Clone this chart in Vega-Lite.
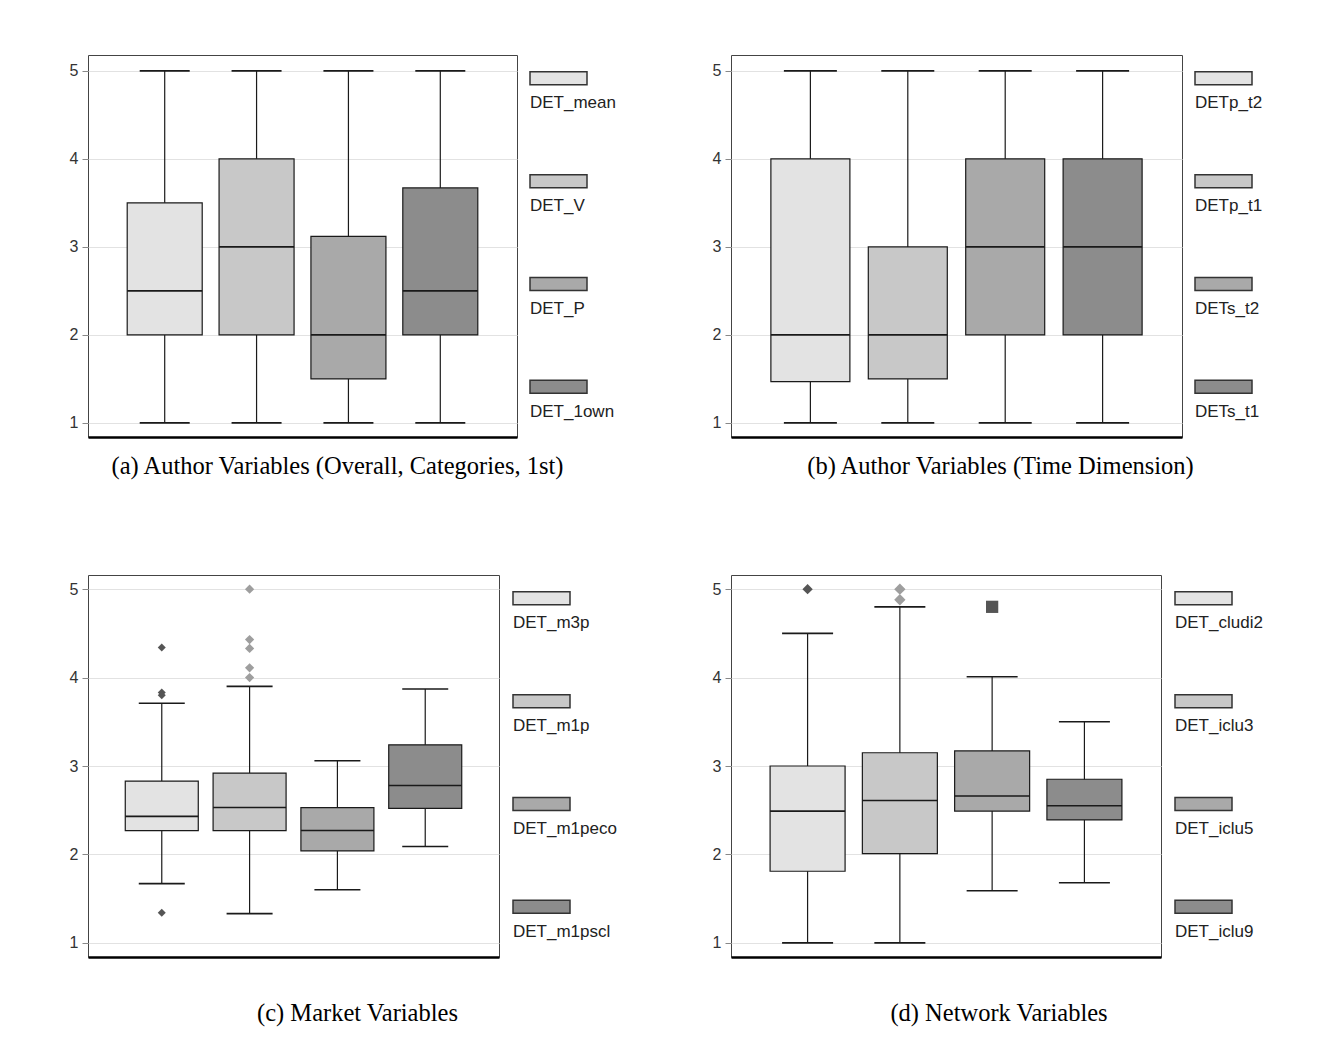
{
  "$schema": "https://vega.github.io/schema/vega-lite/v6.json",
  "background": "white",
  "padding": {"left": 68, "top": 54, "right": 5, "bottom": 10},
  "datasets": {
    "a": [
      {"s": "DET_mean", "lo": 1, "q1": 2, "med": 2.5, "q3": 3.5, "hi": 5},
      {"s": "DET_V", "lo": 1, "q1": 2, "med": 3, "q3": 4, "hi": 5},
      {"s": "DET_P", "lo": 1, "q1": 1.5, "med": 2, "q3": 3.12, "hi": 5},
      {"s": "DET_1own", "lo": 1, "q1": 2, "med": 2.5, "q3": 3.67, "hi": 5}
    ],
    "b": [
      {"s": "DETp_t2", "lo": 1, "q1": 1.47, "med": 2, "q3": 4, "hi": 5},
      {"s": "DETp_t1", "lo": 1, "q1": 1.5, "med": 2, "q3": 3, "hi": 5},
      {"s": "DETs_t2", "lo": 1, "q1": 2, "med": 3, "q3": 4, "hi": 5},
      {"s": "DETs_t1", "lo": 1, "q1": 2, "med": 3, "q3": 4, "hi": 5}
    ],
    "c": [
      {"s": "DET_m3p", "lo": 1.67, "q1": 2.27, "med": 2.43, "q3": 2.83, "hi": 3.71},
      {"s": "DET_m1p", "lo": 1.33, "q1": 2.27, "med": 2.53, "q3": 2.92, "hi": 3.9},
      {"s": "DET_m1peco", "lo": 1.6, "q1": 2.04, "med": 2.27, "q3": 2.53, "hi": 3.06},
      {"s": "DET_m1pscl", "lo": 2.09, "q1": 2.52, "med": 2.78, "q3": 3.24, "hi": 3.87}
    ],
    "c_out": [
      {"s": "DET_m3p", "v": 4.34},
      {"s": "DET_m3p", "v": 3.83},
      {"s": "DET_m3p", "v": 3.8},
      {"s": "DET_m3p", "v": 1.34},
      {"s": "DET_m1p", "v": 5.0},
      {"s": "DET_m1p", "v": 4.43},
      {"s": "DET_m1p", "v": 4.33},
      {"s": "DET_m1p", "v": 4.11},
      {"s": "DET_m1p", "v": 4.0}
    ],
    "d": [
      {"s": "DET_cludi2", "lo": 1, "q1": 1.81, "med": 2.49, "q3": 3.0, "hi": 4.5},
      {"s": "DET_iclu3", "lo": 1, "q1": 2.01, "med": 2.61, "q3": 3.15, "hi": 4.8},
      {"s": "DET_iclu5", "lo": 1.59, "q1": 2.49, "med": 2.66, "q3": 3.17, "hi": 4.01},
      {"s": "DET_iclu9", "lo": 1.68, "q1": 2.39, "med": 2.55, "q3": 2.85, "hi": 3.5}
    ],
    "d_out": [
      {"s": "DET_cludi2", "v": 5.0},
      {"s": "DET_iclu3", "v": 5.0},
      {"s": "DET_iclu3", "v": 4.88},
      {"s": "DET_iclu5", "v": 4.8}
    ]
  },
  "vconcat": [
    {
      "hconcat": [
        {
          "width": 429, "height": 382,
          "view": {"stroke": "#444", "strokeWidth": 1},
          "title": {"text": "(a) Author Variables (Overall, Categories, 1st)", "orient": "bottom", "anchor": "middle", "frame": "group", "dx": 35, "offset": 18, "font": "Liberation Serif", "fontSize": 24.5, "fontWeight": "normal", "color": "#000"},
          "data": {"name": "a"},
          "encoding": {
            "x": {"field": "s", "type": "nominal", "sort": null, "scale": {"type": "point", "padding": 0.835, "domain": ["DET_mean", "DET_V", "DET_P", "DET_1own"]}, "axis": {"labels": false, "ticks": false, "title": null, "domainColor": "#000", "domainWidth": 2.5, "grid": false}}
          },
          "layer": [
            {"mark": {"type": "rule", "color": "#1a1a1a", "strokeWidth": 1.2}, "encoding": {"y": {"field": "lo", "type": "quantitative", "scale": {"domain": [0.84, 5.18], "nice": false, "zero": false}, "axis": {"values": [1, 2, 3, 4, 5], "title": null}}, "y2": {"field": "hi"}}},
            {"mark": {"type": "bar", "size": 75, "stroke": "#1a1a1a", "strokeWidth": 1.2}, "encoding": {"y": {"field": "q1", "type": "quantitative", "scale": {"domain": [0.84, 5.18], "nice": false, "zero": false}, "axis": {"values": [1, 2, 3, 4, 5], "title": null}}, "y2": {"field": "q3"}, "fill": {"field": "s", "type": "nominal", "scale": {"domain": ["DET_mean", "DET_V", "DET_P", "DET_1own"], "range": ["#e3e3e3", "#c8c8c8", "#a9a9a9", "#8c8c8c"]}, "legend": null}}},
            {"mark": {"type": "tick", "size": 75, "thickness": 1.6, "color": "#1a1a1a", "opacity": 1}, "encoding": {"y": {"field": "med", "type": "quantitative", "scale": {"domain": [0.84, 5.18], "nice": false, "zero": false}, "axis": {"values": [1, 2, 3, 4, 5], "title": null}}}},
            {"mark": {"type": "tick", "size": 50, "thickness": 1.6, "color": "#1a1a1a", "opacity": 1}, "encoding": {"y": {"field": "lo", "type": "quantitative", "scale": {"domain": [0.84, 5.18], "nice": false, "zero": false}, "axis": {"values": [1, 2, 3, 4, 5], "title": null}}}},
            {"mark": {"type": "tick", "size": 50, "thickness": 1.6, "color": "#1a1a1a", "opacity": 1}, "encoding": {"y": {"field": "hi", "type": "quantitative", "scale": {"domain": [0.84, 5.18], "nice": false, "zero": false}, "axis": {"values": [1, 2, 3, 4, 5], "title": null}}}}
          ]
        },
        {
          "width": 188, "height": 382,
          "view": {"stroke": null},
          "data": {"name": "a"},
          "encoding": {"y": {"field": "s", "type": "nominal", "sort": null, "scale": {"type": "point", "padding": 0.358, "align": 0.317}, "axis": null}},
          "layer": [
            {"mark": {"type": "point", "shape": "M-1,-0.228H1V0.228H-1Z", "size": 3249, "filled": true, "opacity": 1, "stroke": "#333", "strokeWidth": 1.5, "xOffset": -65.5}, "encoding": {"fill": {"field": "s", "type": "nominal", "scale": {"domain": ["DET_mean", "DET_V", "DET_P", "DET_1own"], "range": ["#e3e3e3", "#c8c8c8", "#a9a9a9", "#8c8c8c"]}, "legend": null}}},
            {"mark": {"type": "text", "align": "left", "baseline": "middle", "dx": -94, "dy": 25, "font": "Liberation Sans", "fontSize": 17, "color": "#222"}, "encoding": {"text": {"field": "s"}}}
          ]
        },
        {
          "width": 451, "height": 382,
          "view": {"stroke": "#444", "strokeWidth": 1},
          "title": {"text": "(b) Author Variables (Time Dimension)", "orient": "bottom", "anchor": "middle", "frame": "group", "dx": 44, "offset": 18, "font": "Liberation Serif", "fontSize": 24.5, "fontWeight": "normal", "color": "#000"},
          "data": {"name": "b"},
          "encoding": {
            "x": {"field": "s", "type": "nominal", "sort": null, "scale": {"type": "point", "padding": 0.815, "domain": ["DETp_t2", "DETp_t1", "DETs_t2", "DETs_t1"]}, "axis": {"labels": false, "ticks": false, "title": null, "domainColor": "#000", "domainWidth": 2.5, "grid": false}}
          },
          "layer": [
            {"mark": {"type": "rule", "color": "#1a1a1a", "strokeWidth": 1.2}, "encoding": {"y": {"field": "lo", "type": "quantitative", "scale": {"domain": [0.84, 5.18], "nice": false, "zero": false}, "axis": {"values": [1, 2, 3, 4, 5], "title": null}}, "y2": {"field": "hi"}}},
            {"mark": {"type": "bar", "size": 79, "stroke": "#1a1a1a", "strokeWidth": 1.2}, "encoding": {"y": {"field": "q1", "type": "quantitative", "scale": {"domain": [0.84, 5.18], "nice": false, "zero": false}, "axis": {"values": [1, 2, 3, 4, 5], "title": null}}, "y2": {"field": "q3"}, "fill": {"field": "s", "type": "nominal", "scale": {"domain": ["DETp_t2", "DETp_t1", "DETs_t2", "DETs_t1"], "range": ["#e3e3e3", "#c8c8c8", "#a9a9a9", "#8c8c8c"]}, "legend": null}}},
            {"mark": {"type": "tick", "size": 79, "thickness": 1.6, "color": "#1a1a1a", "opacity": 1}, "encoding": {"y": {"field": "med", "type": "quantitative", "scale": {"domain": [0.84, 5.18], "nice": false, "zero": false}, "axis": {"values": [1, 2, 3, 4, 5], "title": null}}}},
            {"mark": {"type": "tick", "size": 53, "thickness": 1.6, "color": "#1a1a1a", "opacity": 1}, "encoding": {"y": {"field": "lo", "type": "quantitative", "scale": {"domain": [0.84, 5.18], "nice": false, "zero": false}, "axis": {"values": [1, 2, 3, 4, 5], "title": null}}}},
            {"mark": {"type": "tick", "size": 53, "thickness": 1.6, "color": "#1a1a1a", "opacity": 1}, "encoding": {"y": {"field": "hi", "type": "quantitative", "scale": {"domain": [0.84, 5.18], "nice": false, "zero": false}, "axis": {"values": [1, 2, 3, 4, 5], "title": null}}}}
          ]
        },
        {
          "width": 57, "height": 382,
          "view": {"stroke": null},
          "data": {"name": "b"},
          "encoding": {"y": {"field": "s", "type": "nominal", "sort": null, "scale": {"type": "point", "padding": 0.358, "align": 0.317}, "axis": null}},
          "layer": [
            {"mark": {"type": "point", "shape": "M-1,-0.228H1V0.228H-1Z", "size": 3249, "filled": true, "opacity": 1, "stroke": "#333", "strokeWidth": 1.5}, "encoding": {"fill": {"field": "s", "type": "nominal", "scale": {"domain": ["DETp_t2", "DETp_t1", "DETs_t2", "DETs_t1"], "range": ["#e3e3e3", "#c8c8c8", "#a9a9a9", "#8c8c8c"]}, "legend": null}}},
            {"mark": {"type": "text", "align": "left", "baseline": "middle", "dx": -28.5, "dy": 25, "font": "Liberation Sans", "fontSize": 17, "color": "#222"}, "encoding": {"text": {"field": "s"}}}
          ]
        }
      ],
      "spacing": 13,
      "bounds": "flush"
    },
    {
      "hconcat": [
        {
          "width": 411, "height": 382,
          "view": {"stroke": "#444", "strokeWidth": 1},
          "title": {"text": "(c) Market Variables", "orient": "bottom", "anchor": "middle", "frame": "group", "dx": 64, "offset": 45, "font": "Liberation Serif", "fontSize": 24.5, "fontWeight": "normal", "color": "#000"},
          "data": {"name": "c"},
          "encoding": {
            "x": {"field": "s", "type": "nominal", "sort": null, "scale": {"type": "point", "padding": 0.84, "domain": ["DET_m3p", "DET_m1p", "DET_m1peco", "DET_m1pscl"]}, "axis": {"labels": false, "ticks": false, "title": null, "domainColor": "#000", "domainWidth": 2.5, "grid": false}}
          },
          "layer": [
            {"mark": {"type": "rule", "color": "#1a1a1a", "strokeWidth": 1.2}, "encoding": {"y": {"field": "lo", "type": "quantitative", "scale": {"domain": [0.84, 5.16], "nice": false, "zero": false}, "axis": {"values": [1, 2, 3, 4, 5], "title": null}}, "y2": {"field": "hi"}}},
            {"mark": {"type": "bar", "size": 73, "stroke": "#1a1a1a", "strokeWidth": 1.2}, "encoding": {"y": {"field": "q1", "type": "quantitative", "scale": {"domain": [0.84, 5.16], "nice": false, "zero": false}, "axis": {"values": [1, 2, 3, 4, 5], "title": null}}, "y2": {"field": "q3"}, "fill": {"field": "s", "type": "nominal", "scale": {"domain": ["DET_m3p", "DET_m1p", "DET_m1peco", "DET_m1pscl"], "range": ["#e3e3e3", "#c8c8c8", "#a9a9a9", "#8c8c8c"]}, "legend": null}}},
            {"mark": {"type": "tick", "size": 73, "thickness": 1.6, "color": "#1a1a1a", "opacity": 1}, "encoding": {"y": {"field": "med", "type": "quantitative", "scale": {"domain": [0.84, 5.16], "nice": false, "zero": false}, "axis": {"values": [1, 2, 3, 4, 5], "title": null}}}},
            {"mark": {"type": "tick", "size": 46, "thickness": 1.6, "color": "#1a1a1a", "opacity": 1}, "encoding": {"y": {"field": "lo", "type": "quantitative", "scale": {"domain": [0.84, 5.16], "nice": false, "zero": false}, "axis": {"values": [1, 2, 3, 4, 5], "title": null}}}},
            {"mark": {"type": "tick", "size": 46, "thickness": 1.6, "color": "#1a1a1a", "opacity": 1}, "encoding": {"y": {"field": "hi", "type": "quantitative", "scale": {"domain": [0.84, 5.16], "nice": false, "zero": false}, "axis": {"values": [1, 2, 3, 4, 5], "title": null}}}},
            {"data": {"name": "c_out"}, "mark": {"type": "point", "filled": true, "opacity": 1, "shape": "diamond"}, "encoding": {"y": {"field": "v", "type": "quantitative", "scale": {"domain": [0.84, 5.16], "nice": false, "zero": false}, "axis": {"values": [1, 2, 3, 4, 5], "title": null}}, "color": {"field": "s", "type": "nominal", "scale": {"domain": ["DET_m3p", "DET_m1p"], "range": ["#555555", "#9e9e9e"]}, "legend": null}, "size": {"field": "s", "type": "ordinal", "scale": {"domain": ["DET_m3p", "DET_m1p"], "range": [64, 150]}, "legend": null}}}
          ]
        },
        {
          "width": 204, "height": 382,
          "view": {"stroke": null},
          "data": {"name": "c"},
          "encoding": {"y": {"field": "s", "type": "nominal", "sort": null, "scale": {"type": "point", "padding": 0.358, "align": 0.317}, "axis": null}},
          "layer": [
            {"mark": {"type": "point", "shape": "M-1,-0.228H1V0.228H-1Z", "size": 3249, "filled": true, "opacity": 1, "stroke": "#333", "strokeWidth": 1.5, "xOffset": -73.5}, "encoding": {"fill": {"field": "s", "type": "nominal", "scale": {"domain": ["DET_m3p", "DET_m1p", "DET_m1peco", "DET_m1pscl"], "range": ["#e3e3e3", "#c8c8c8", "#a9a9a9", "#8c8c8c"]}, "legend": null}}},
            {"mark": {"type": "text", "align": "left", "baseline": "middle", "dx": -102, "dy": 25, "font": "Liberation Sans", "fontSize": 17, "color": "#222"}, "encoding": {"text": {"field": "s"}}}
          ]
        },
        {
          "width": 430, "height": 382,
          "view": {"stroke": "#444", "strokeWidth": 1},
          "title": {"text": "(d) Network Variables", "orient": "bottom", "anchor": "middle", "frame": "group", "dx": 53, "offset": 45, "font": "Liberation Serif", "fontSize": 24.5, "fontWeight": "normal", "color": "#000"},
          "data": {"name": "d"},
          "encoding": {
            "x": {"field": "s", "type": "nominal", "sort": null, "scale": {"type": "point", "padding": 0.83, "domain": ["DET_cludi2", "DET_iclu3", "DET_iclu5", "DET_iclu9"]}, "axis": {"labels": false, "ticks": false, "title": null, "domainColor": "#000", "domainWidth": 2.5, "grid": false}}
          },
          "layer": [
            {"mark": {"type": "rule", "color": "#1a1a1a", "strokeWidth": 1.2}, "encoding": {"y": {"field": "lo", "type": "quantitative", "scale": {"domain": [0.84, 5.16], "nice": false, "zero": false}, "axis": {"values": [1, 2, 3, 4, 5], "title": null}}, "y2": {"field": "hi"}}},
            {"mark": {"type": "bar", "size": 75, "stroke": "#1a1a1a", "strokeWidth": 1.2}, "encoding": {"y": {"field": "q1", "type": "quantitative", "scale": {"domain": [0.84, 5.16], "nice": false, "zero": false}, "axis": {"values": [1, 2, 3, 4, 5], "title": null}}, "y2": {"field": "q3"}, "fill": {"field": "s", "type": "nominal", "scale": {"domain": ["DET_cludi2", "DET_iclu3", "DET_iclu5", "DET_iclu9"], "range": ["#e3e3e3", "#c8c8c8", "#a9a9a9", "#8c8c8c"]}, "legend": null}}},
            {"mark": {"type": "tick", "size": 75, "thickness": 1.6, "color": "#1a1a1a", "opacity": 1}, "encoding": {"y": {"field": "med", "type": "quantitative", "scale": {"domain": [0.84, 5.16], "nice": false, "zero": false}, "axis": {"values": [1, 2, 3, 4, 5], "title": null}}}},
            {"mark": {"type": "tick", "size": 51, "thickness": 1.6, "color": "#1a1a1a", "opacity": 1}, "encoding": {"y": {"field": "lo", "type": "quantitative", "scale": {"domain": [0.84, 5.16], "nice": false, "zero": false}, "axis": {"values": [1, 2, 3, 4, 5], "title": null}}}},
            {"mark": {"type": "tick", "size": 51, "thickness": 1.6, "color": "#1a1a1a", "opacity": 1}, "encoding": {"y": {"field": "hi", "type": "quantitative", "scale": {"domain": [0.84, 5.16], "nice": false, "zero": false}, "axis": {"values": [1, 2, 3, 4, 5], "title": null}}}},
            {"data": {"name": "d_out"}, "mark": {"type": "point", "filled": true, "opacity": 1}, "encoding": {"y": {"field": "v", "type": "quantitative", "scale": {"domain": [0.84, 5.16], "nice": false, "zero": false}, "axis": {"values": [1, 2, 3, 4, 5], "title": null}}, "color": {"field": "s", "type": "nominal", "scale": {"domain": ["DET_cludi2", "DET_iclu3", "DET_iclu5"], "range": ["#555555", "#9e9e9e", "#777777"]}, "legend": null}, "shape": {"field": "s", "type": "nominal", "scale": {"domain": ["DET_cludi2", "DET_iclu3", "DET_iclu5"], "range": ["diamond", "diamond", "square"]}, "legend": null}, "size": {"field": "s", "type": "ordinal", "scale": {"domain": ["DET_cludi2", "DET_iclu3", "DET_iclu5"], "range": [64, 150, 81]}, "legend": null}}}
          ]
        },
        {
          "width": 57, "height": 382,
          "view": {"stroke": null},
          "data": {"name": "d"},
          "encoding": {"y": {"field": "s", "type": "nominal", "sort": null, "scale": {"type": "point", "padding": 0.358, "align": 0.317}, "axis": null}},
          "layer": [
            {"mark": {"type": "point", "shape": "M-1,-0.228H1V0.228H-1Z", "size": 3249, "filled": true, "opacity": 1, "stroke": "#333", "strokeWidth": 1.5}, "encoding": {"fill": {"field": "s", "type": "nominal", "scale": {"domain": ["DET_cludi2", "DET_iclu3", "DET_iclu5", "DET_iclu9"], "range": ["#e3e3e3", "#c8c8c8", "#a9a9a9", "#8c8c8c"]}, "legend": null}}},
            {"mark": {"type": "text", "align": "left", "baseline": "middle", "dx": -28.5, "dy": 25, "font": "Liberation Sans", "fontSize": 17, "color": "#222"}, "encoding": {"text": {"field": "s"}}}
          ]
        }
      ],
      "spacing": 14,
      "bounds": "flush"
    }
  ],
  "spacing": 95,
  "config": {
    "font": "Liberation Sans",
    "axisY": {"grid": true, "gridColor": "#e2e2e2", "gridWidth": 1, "domain": false, "tickColor": "#888888", "tickSize": 6, "tickWidth": 1, "labelFont": "Liberation Sans", "labelFontSize": 16, "labelColor": "#333333", "labelPadding": 4}
  }
}
